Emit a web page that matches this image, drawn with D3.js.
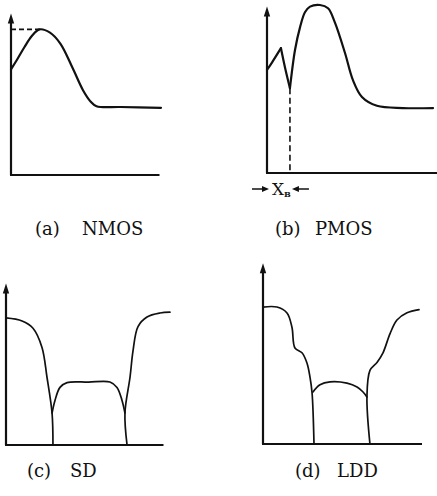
<!DOCTYPE html>
<html>
<head>
<meta charset="utf-8">
<script src="https://cdn.jsdelivr.net/npm/d3@7"></script>
<style>
  html, body { margin: 0; padding: 0; background: #fff; }
  svg { display: block; }
</style>
</head>
<body>
<svg id="fig" width="437" height="496"></svg>
<script>
// ------------------ DATA (arbitrary units, 0..100) ------------------

// (a) NMOS
const aX = [0, 4, 9, 14, 19, 26, 33, 41, 48, 53, 57, 73, 100];
const aY = [66, 72, 80, 87, 91, 89, 82, 67, 53, 46, 43, 42.5, 42];
const aPeak = 91;

// (b) PMOS - rising part, straight drop into the cusp, main peak
const b1X = [0, 3.3, 9.3];
const b1Y = [64.4, 69, 78];
const b2X = [9.3, 12, 15.3];
const b2Y = [78, 66, 53];
const b3X = [15.3, 18.7, 22, 25.3, 28.7, 35.3, 40.7, 45.3, 52, 57.3, 63.3, 73.3, 90.7, 110.7];
const b3Y = [53, 77, 91, 100.5, 104, 105, 103, 94, 75, 58, 47.5, 42, 40.6, 40.6];
const bXB = 15.3;

// (c) SD
const cLeftX = [0, 10.7, 18, 24, 27.3, 30.7, 31.3];
const cLeftY = [79.4, 77.5, 73, 61, 42.5, 20, 0];
const cMidX = [30.7, 32.7, 36, 40.7, 55, 69.3, 74, 77.3, 79.3];
const cMidY = [20, 28, 36, 39, 39.3, 39.4, 36, 28, 20];
const cRightX = [80.7, 79.3, 82.7, 84.7, 88, 94, 102.7, 109.3];
const cRightY = [0, 20, 42.5, 59, 74, 80, 82.5, 83];

// (d) LDD
const dLeftX = [0, 9.3, 16, 19.3, 21.3, 26, 29.3, 31.3, 32.7, 34];
const dLeftY = [85.6, 85.6, 81.9, 73, 60, 57, 50.6, 42, 32, 0];
const dMidX = [33.3, 38, 44.7, 56, 62.7, 66.7, 69.3];
const dMidY = [32.5, 37, 38.8, 38, 35.6, 32.5, 29.4];
const dRightX = [71.3, 69.3, 71.3, 76, 80, 84.7, 89.3, 96, 104];
const dRightY = [0, 29.4, 46, 51, 57, 69, 77.5, 82, 84];

// captions
const captions = [["(a)", "NMOS"], ["(b)", "PMOS"], ["(c)", "SD"], ["(d)", "LDD"]];

// ------------------ LAYOUT ------------------

const svg = d3.select("#fig");

// ox, oy = origin pixel; xEnd, yTop = axis extents in data units
const panels = [
  { ox: 11, oy: 175, xEnd: 99, yTop: 101, stroke: 2.2, capX: [35, 82], capY: 235 },
  { ox: 267, oy: 173, xEnd: 114, yTop: 104, stroke: 2.2, capX: [275, 315], capY: 235 },
  { ox: 6, oy: 445, xEnd: 105, yTop: 101, stroke: 1.7, capX: [27, 70], capY: 477 },
  { ox: 263, oy: 444, xEnd: 106, yTop: 113, stroke: 1.7, capX: [295, 337], capY: 477 }
];

panels.forEach(function (p) {
  p.x = d3.scaleLinear().domain([0, 100]).range([p.ox, p.ox + 150]);
  p.y = d3.scaleLinear().domain([0, 100]).range([p.oy, p.oy - 160]);
});

// ------------------ HELPERS ------------------

function zip(xs, ys) {
  return xs.map(function (v, i) { return [v, ys[i]]; });
}

function drawCurve(p, xs, ys, curve, width) {
  let line = d3.line()
    .x(function (d) { return p.x(d[0]); })
    .y(function (d) { return p.y(d[1]); })
    .curve(curve);
  svg.append("path")
    .attr("d", line(zip(xs, ys)))
    .attr("fill", "none")
    .attr("stroke", "#111")
    .attr("stroke-width", width || p.stroke)
    .attr("stroke-linejoin", "round")
    .attr("stroke-linecap", "round");
}

function drawAxes(p) {
  let g = svg.append("g");
  g.append("line")
    .attr("x1", p.x(0)).attr("y1", p.y(0))
    .attr("x2", p.x(0)).attr("y2", p.y(p.yTop) + 6)
    .attr("stroke", "#111").attr("stroke-width", 2.2);
  g.append("line")
    .attr("x1", p.x(0) - 1).attr("y1", p.y(0))
    .attr("x2", p.x(p.xEnd)).attr("y2", p.y(0))
    .attr("stroke", "#111").attr("stroke-width", 2.2);
  // arrow head
  let tx = p.x(0), ty = p.y(p.yTop);
  g.append("path")
    .attr("d", "M" + tx + "," + ty + "L" + (tx - 3.2) + "," + (ty + 10) + "L" + (tx + 3.2) + "," + (ty + 10) + "Z")
    .attr("fill", "#111");
}

function drawCaption(p, c) {
  let t = svg.append("text").attr("y", p.capY).attr("fill", "#111")
    .attr("font-family", "DejaVu Serif, serif")
    .attr("font-size", 18);
  t.append("tspan")
    .attr("x", p.capX[0])
    .text(c[0]);
  t.append("tspan")
    .attr("x", p.capX[1])
    .text(c[1]);
}

// ------------------ DRAW ------------------

const smooth = d3.curveCatmullRom.alpha(0.5);

panels.forEach(drawAxes);
panels.forEach(function (p, i) { drawCaption(p, captions[i]); });

// (a)
let pa = panels[0];
drawCurve(pa, aX, aY, smooth);
svg.append("line")
  .attr("x1", pa.x(0)).attr("y1", pa.y(aPeak))
  .attr("x2", pa.x(aX[4])).attr("y2", pa.y(aPeak))
  .attr("stroke", "#111").attr("stroke-width", 1.6)
  .attr("stroke-dasharray", "5,3");

// (b)
let pb = panels[1];
drawCurve(pb, b1X, b1Y, smooth);
drawCurve(pb, b2X, b2Y, smooth);
drawCurve(pb, b3X, b3Y, smooth);
svg.append("line")
  .attr("x1", pb.x(bXB)).attr("y1", pb.y(b3Y[0]))
  .attr("x2", pb.x(bXB)).attr("y2", pb.y(0))
  .attr("stroke", "#111").attr("stroke-width", 1.6)
  .attr("stroke-dasharray", "6,3.5");

// X_B marker with arrows
let xbY = pb.oy + 16;
let arrowStart = pb.x(0) - 15, arrowEnd = pb.x(0) + 2;
let arrowRStart = pb.x(bXB) + 19, arrowREnd = pb.x(bXB) + 2;
function hArrow(x1, x2, y) {
  let dir = x2 > x1 ? 1 : -1;
  svg.append("line")
    .attr("x1", x1).attr("y1", y).attr("x2", x2 - dir * 4).attr("y2", y)
    .attr("stroke", "#111").attr("stroke-width", 1.5);
  svg.append("path")
    .attr("d", "M" + x2 + "," + y + "L" + (x2 - dir * 7) + "," + (y - 3) + "L" + (x2 - dir * 7) + "," + (y + 3) + "Z")
    .attr("fill", "#111");
}
hArrow(arrowStart, arrowEnd, xbY);
hArrow(arrowRStart, arrowREnd, xbY);
let xb = svg.append("text")
  .attr("x", pb.x(0) + 5).attr("y", xbY + 6)
  .attr("font-family", "DejaVu Serif, serif").attr("font-size", 17)
  .attr("fill", "#111")
  .text("X");
xb.append("tspan").attr("font-size", 8).attr("font-weight", "bold").attr("dy", 2).text("B");

// (c)
let pc = panels[2];
drawCurve(pc, cLeftX, cLeftY, smooth);
drawCurve(pc, cMidX, cMidY, smooth);
drawCurve(pc, cRightX, cRightY, smooth);

// (d)
let pd = panels[3];
drawCurve(pd, dLeftX, dLeftY, smooth);
drawCurve(pd, dMidX, dMidY, smooth);
drawCurve(pd, dRightX, dRightY, smooth);
</script>
</body>
</html>
